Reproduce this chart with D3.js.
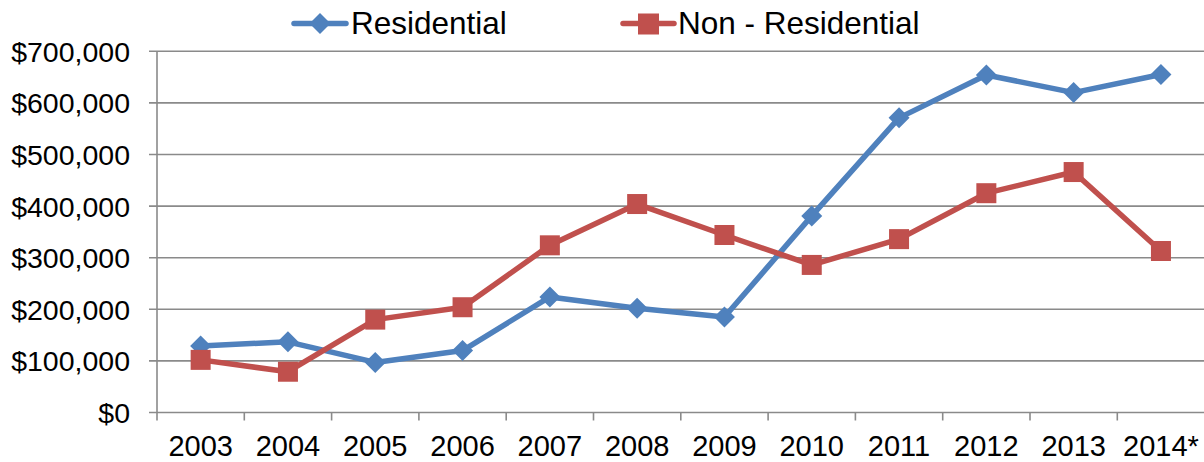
<!DOCTYPE html>
<html>
<head>
<meta charset="utf-8">
<script src="https://cdn.jsdelivr.net/npm/d3@7"></script>
<style>
  body { margin: 0; background: #fff; }
  svg { display: block; font-family: "Liberation Sans", Arial, sans-serif; }
</style>
</head>
<body>
<div id="myChart"></div>
<script>
// data
var years = ["2003","2004","2005","2006","2007","2008","2009","2010","2011","2012","2013","2014*"];
var residential = [129000,137000,97000,120000,224000,202000,185000,381000,571000,654000,620000,655000];
var nonResidential = [102000,79000,180000,204000,324000,404000,344000,286000,336000,425000,466000,313000];
var yTicks = [0,100000,200000,300000,400000,500000,600000,700000];
var seriesNames = ["Residential","Non - Residential"];

var w = 1204, h = 462;
var padLeft = 157, padRight = 1204.6, plotTop = 51.3, plotBottom = 412.5;
var blue = "#4F81BD", red = "#C0504D", grid = "#8a8a8a";
var diamond = "M0,-10.5L10.5,0L0,10.5L-10.5,0Z";

var svg = d3.select("#myChart").append("svg")
  .attr("width", w).attr("height", h);

var x = d3.scaleBand().domain(years).range([padLeft, padRight]);
var y = d3.scaleLinear().domain([0, 700000]).range([plotBottom, plotTop]);

// gridlines
svg.append("g").selectAll("line")
  .data(yTicks).enter().append("line")
  .attr("x1", padLeft - 8).attr("x2", w)
  .attr("y1", function(d) { return y(d); })
  .attr("y2", function(d) { return y(d); })
  .attr("stroke", grid).attr("stroke-width", 1.6);

// y axis line
svg.append("line")
  .attr("x1", padLeft).attr("x2", padLeft)
  .attr("y1", plotTop).attr("y2", plotBottom + 8)
  .attr("stroke", grid).attr("stroke-width", 1.6);

// y labels
svg.append("g").selectAll("text")
  .data(yTicks).enter().append("text")
  .attr("x", 130)
  .attr("y", function(d) { return y(d) + 10.4; })
  .attr("text-anchor", "end")
  .attr("font-size", "28.5px")
  .attr("fill", "#000")
  .text(function(d) { return "$" + d3.format(",")(d); });

// x ticks at category boundaries
svg.append("g").selectAll("line")
  .data(years.slice(1)).enter().append("line")
  .attr("x1", function(d) { return x(d); })
  .attr("x2", function(d) { return x(d); })
  .attr("y1", plotBottom).attr("y2", plotBottom + 8)
  .attr("stroke", grid).attr("stroke-width", 1.6);

// x labels
svg.append("g").selectAll("text")
  .data(years).enter().append("text")
  .attr("x", function(d) { return x(d) + x.bandwidth() / 2; })
  .attr("y", 456)
  .attr("text-anchor", "middle")
  .attr("font-size", "29px")
  .attr("fill", "#000")
  .text(function(d) { return d; });

var line = d3.line()
  .x(function(d, i) { return x(years[i]) + x.bandwidth() / 2; })
  .y(function(d) { return y(d); });

// residential
svg.append("path").datum(residential)
  .attr("d", line).attr("fill", "none")
  .attr("stroke", blue).attr("stroke-width", 5.5).attr("stroke-linejoin", "round");
svg.append("g").selectAll("path")
  .data(residential).enter().append("path")
  .attr("d", diamond)
  .attr("transform", function(d, i) {
    return "translate(" + (x(years[i]) + x.bandwidth() / 2) + "," + y(d) + ")";
  })
  .attr("fill", blue);

// non-residential
svg.append("path").datum(nonResidential)
  .attr("d", line).attr("fill", "none")
  .attr("stroke", red).attr("stroke-width", 5.5).attr("stroke-linejoin", "round");
svg.append("g").selectAll("rect")
  .data(nonResidential).enter().append("rect")
  .attr("x", function(d, i) { return x(years[i]) + x.bandwidth() / 2 - 10; })
  .attr("y", function(d) { return y(d) - 10; })
  .attr("width", 20).attr("height", 20)
  .attr("fill", red);

// legend
var lg = svg.append("g");
lg.append("line").attr("x1", 294).attr("x2", 346).attr("y1", 23.5).attr("y2", 23.5)
  .attr("stroke", blue).attr("stroke-width", 5.5).attr("stroke-linecap", "round");
lg.append("path").attr("d", diamond)
  .attr("transform", "translate(320,23.5)").attr("fill", blue);
lg.append("text").attr("x", 351).attr("y", 34).attr("font-size", "31.5px").text(seriesNames[0]);

lg.append("line").attr("x1", 623).attr("x2", 674).attr("y1", 23.5).attr("y2", 23.5)
  .attr("stroke", red).attr("stroke-width", 5.5).attr("stroke-linecap", "round");
lg.append("rect").attr("x", 638).attr("y", 13.5).attr("width", 21).attr("height", 21)
  .attr("fill", red);
lg.append("text").attr("x", 678).attr("y", 34).attr("font-size", "31.5px").text(seriesNames[1]);
</script>
</body>
</html>
